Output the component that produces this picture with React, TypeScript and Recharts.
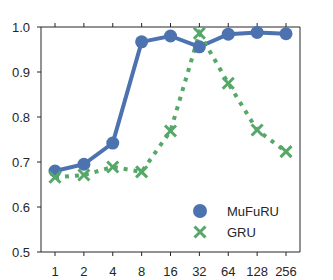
import { LineChart, Line, XAxis, YAxis } from "recharts"

const sizes = ["1", "2", "4", "8", "16", "32", "64", "128", "256"]
const mufuru = [0.68, 0.695, 0.742, 0.967, 0.98, 0.956, 0.984, 0.988, 0.985]
const gru = [0.666, 0.671, 0.689, 0.678, 0.769, 0.986, 0.875, 0.771, 0.723]
const yTicks = [0.5, 0.6, 0.7, 0.8, 0.9, 1.0]
const seriesNames = ["MuFuRU", "GRU"]

const BLUE = "#4C72B0"
const GREEN = "#55A868"
const INK = "#262626"
const FONT = "'Liberation Sans', Arial, sans-serif"

const data = sizes.map((n, i) => ({ n, mufuru: mufuru[i], gru: gru[i] }))

// x-shaped marker like matplotlib's "x"
const Cross = (props: any) => {
  const { cx, cy, key } = props
  if (cx == null || cy == null) return <g key={key} />
  const s = 5.5
  return (
    <g key={key} stroke={GREEN} strokeWidth={3}>
      <line x1={cx - s} y1={cy - s} x2={cx + s} y2={cy + s} />
      <line x1={cx - s} y1={cy + s} x2={cx + s} y2={cy - s} />
    </g>
  )
}

// legend drawn over the plot, lower right
const LegendBox = () => (
  <svg
    width={110}
    height={50}
    style={{ position: "absolute", left: 190, top: 200, fontFamily: FONT, fontSize: 13 }}
  >
    <circle cx={10} cy={11} r={7} fill={BLUE} />
    <text x={37} y={11} dy="0.355em" fill={INK}>{seriesNames[0]}</text>
    <g stroke={GREEN} strokeWidth={3}>
      <line x1={4.5} y1={26.5} x2={15.5} y2={37.5} />
      <line x1={4.5} y1={37.5} x2={15.5} y2={26.5} />
    </g>
    <text x={37} y={32} dy="0.355em" fill={INK}>{seriesNames[1]}</text>
  </svg>
)

export default function App() {
  const tickStyle = { fill: INK, fontSize: 13, fontFamily: FONT }
  const blank = () => ""
  return (
    <div style={{ position: "absolute", left: 0, top: 0, width: 333, height: 280, background: "#fff" }}>
      <LineChart
        width={333}
        height={280}
        data={data}
        margin={{ top: 0, right: 0, left: 0, bottom: 0 }}
      >
        <XAxis
          xAxisId="bottom"
          dataKey="n"
          height={28}
          padding={{ left: 14, right: 14 }}
          stroke={INK}
          tickSize={4}
          tickMargin={11}
          tick={tickStyle}
          interval={0}
        />
        <XAxis
          xAxisId="top"
          orientation="top"
          dataKey="n"
          height={27}
          padding={{ left: 14, right: 14 }}
          stroke={INK}
          tickSize={4}
          tickFormatter={blank}
          interval={0}
        />
        <YAxis
          yAxisId="left"
          width={41}
          domain={[0.5, 1]}
          ticks={yTicks}
          stroke={INK}
          tickSize={4}
          tickMargin={7}
          tick={tickStyle}
          tickFormatter={(v: number) => v.toFixed(1)}
        />
        <YAxis
          yAxisId="right"
          orientation="right"
          width={33}
          domain={[0.5, 1]}
          ticks={yTicks}
          stroke={INK}
          tickSize={4}
          tickFormatter={blank}
        />
        <Line
          xAxisId="bottom"
          yAxisId="left"
          dataKey="mufuru"
          name={seriesNames[0]}
          stroke={BLUE}
          strokeWidth={4}
          dot={{ r: 6.5, fill: BLUE, stroke: "none" }}
          activeDot={false}
          isAnimationActive={false}
        />
        <Line
          xAxisId="bottom"
          yAxisId="left"
          dataKey="gru"
          name={seriesNames[1]}
          stroke={GREEN}
          strokeWidth={4}
          strokeDasharray="4 6"
          dot={Cross}
          activeDot={false}
          isAnimationActive={false}
        />
      </LineChart>
      <LegendBox />
    </div>
  )
}
